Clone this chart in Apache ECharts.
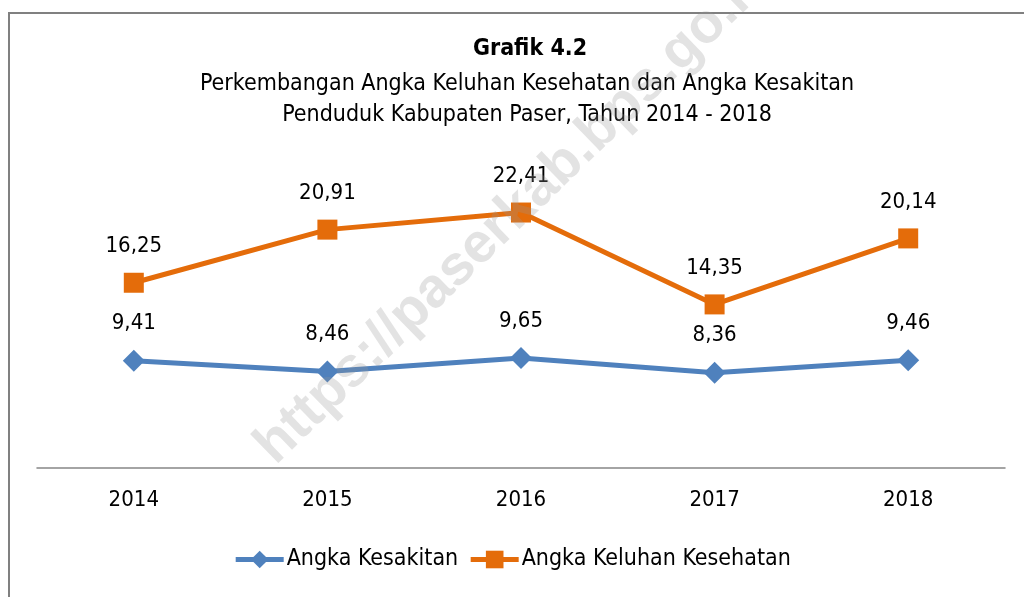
<!DOCTYPE html>
<html>
<head>
<meta charset="utf-8">
<script src="https://cdn.jsdelivr.net/npm/echarts@6/dist/echarts.min.js"></script>
<style>
  html, body { margin: 0; padding: 0; background: #fff; }
  #chart { width: 1024px; height: 597px; }
</style>
</head>
<body>
<div id="chart"></div>
<script>
var years = ['2014', '2015', '2016', '2017', '2018']
var angkaKesakitan = [9.41, 8.46, 9.65, 8.36, 9.46]
var angkaKeluhan = [16.25, 20.91, 22.41, 14.35, 20.14]

var font = "'DejaVu Sans Condensed', 'Liberation Sans Narrow', sans-serif"
var chart = echarts.init(document.getElementById('chart'))

// koma sebagai pemisah desimal
function fmt(p) {
    return p.value.toFixed(2).replace('.', ',')
}

chart.setOption({
    backgroundColor: '#fff',
    textStyle: { fontFamily: font },
    title: [
        {
            text: 'Grafik 4.2',
            left: 525, top: 33, textAlign: 'center',
            textStyle: { fontFamily: font, fontSize: 23, fontWeight: 'bold', color: '#000' }
        },
        {
            text: 'Perkembangan Angka Keluhan Kesehatan dan Angka Kesakitan\nPenduduk Kabupaten Paser, Tahun 2014 - 2018',
            left: 522, top: 64, textAlign: 'center',
            textStyle: { fontFamily: font, fontSize: 23, fontWeight: 'normal', color: '#000', lineHeight: 31 }
        }
    ],
    legend: {
        bottom: 21,
        left: 'center',
        itemWidth: 48,
        itemHeight: 22,
        itemGap: 10,
        lineStyle: { width: 5 },
        textStyle: { fontFamily: font, fontSize: 23, color: '#000', padding: [0, 0, 0, -2] },
        data: ['Angka Kesakitan', 'Angka Keluhan Kesehatan']
    },
    grid: { left: 37, right: 19, top: 183, bottom: 129 },
    xAxis: {
        type: 'category',
        data: years,
        boundaryGap: true,
        axisLine: { lineStyle: { color: '#868686', width: 1.5 } },
        axisTick: { show: false },
        axisLabel: { fontFamily: font, fontSize: 22, color: '#000', margin: 21 }
    },
    yAxis: {
        type: 'value',
        min: 0, max: 25,
        show: false,
        splitLine: { show: false }
    },
    series: [
        {
            name: 'Angka Kesakitan',
            type: 'line',
            data: angkaKesakitan,
            symbol: 'diamond',
            symbolSize: [22, 22],
            color: '#4f81bd',
            lineStyle: { width: 5, color: '#4f81bd' },
            label: { show: true, position: 'top', distance: 15, formatter: fmt, fontFamily: font, fontSize: 22, color: '#000' }
        },
        {
            name: 'Angka Keluhan Kesehatan',
            type: 'line',
            data: angkaKeluhan,
            symbol: 'rect',
            symbolSize: 20,
            color: '#e46c0a',
            lineStyle: { width: 5, color: '#e46c0a' },
            label: { show: true, position: 'top', distance: 15, formatter: fmt, fontFamily: font, fontSize: 22, color: '#000' }
        }
    ],
    graphic: [
        {
            type: 'rect',
            shape: { x: 9, y: 13, width: 1100, height: 700 },
            style: { fill: 'none', stroke: '#808080', lineWidth: 2 },
            z: 100
        },
        {
            type: 'text',
            x: 515, y: 212,
            rotation: 0.77,
            z: 100,
            style: {
                text: 'https://paserkab.bps.go.id',
                fontFamily: "'Liberation Sans', Arial, sans-serif",
                fontSize: 56,
                fontWeight: 'bold',
                fill: 'rgba(150,150,150,0.27)',
                textAlign: 'center',
                textVerticalAlign: 'middle'
            }
        }
    ]
})
</script>
</body>
</html>
